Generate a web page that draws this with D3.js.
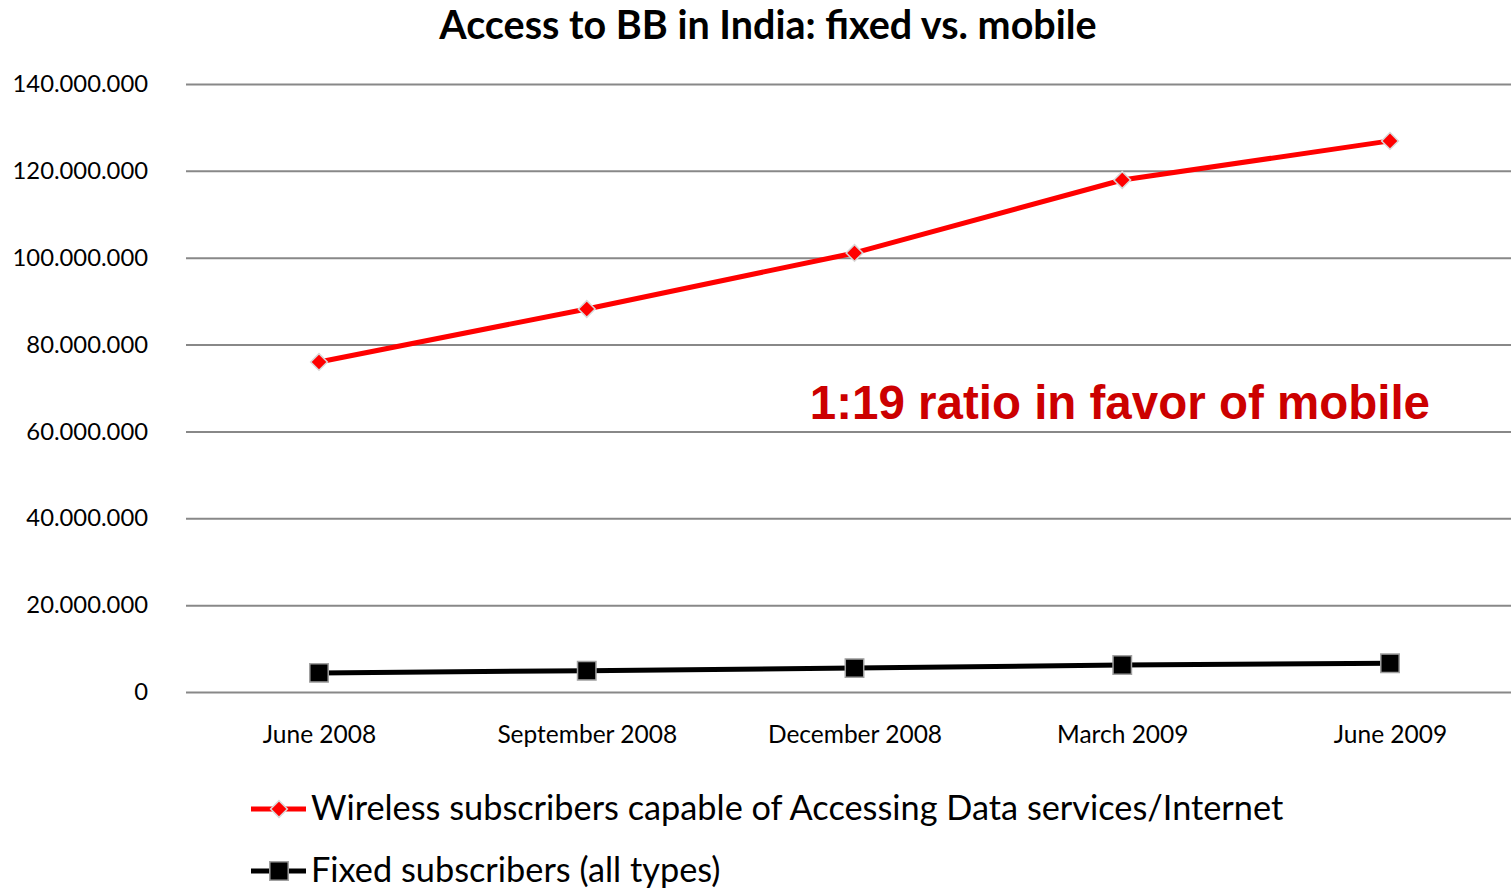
<!DOCTYPE html>
<html>
<head>
<meta charset="utf-8">
<script src="https://cdn.jsdelivr.net/npm/d3@7"></script>
<style>
  html, body { margin: 0; padding: 0; background: #fff; }
  svg { display: block; }
</style>
</head>
<body>
<svg id="chart" width="1511" height="889"></svg>
<script>
// Broadband subscribers in India, June 2008 – June 2009
const categories = ["June 2008", "September 2008", "December 2008", "March 2009", "June 2009"];
const wireless = [76000000, 88200000, 101100000, 117900000, 126900000];
const fixed = [4400000, 4900000, 5500000, 6200000, 6600000];
const yTicks = [0, 20000000, 40000000, 60000000, 80000000, 100000000, 120000000, 140000000];
const seriesNames = [
  "Wireless subscribers capable of Accessing Data services/Internet",
  "Fixed subscribers (all types)"
];

const svg = d3.select("#chart");
const font = "Lato, 'Open Sans', sans-serif";

const x = d3.scalePoint().domain(categories).range([319, 1390]);
const y = d3.scaleLinear().domain([0, 140000000]).range([692, 84]);

const fmt = v => v === 0 ? "0" : d3.format(",")(v).replace(/,/g, ".");

// Title
svg.append("text")
  .attr("x", 768).attr("y", 39)
  .attr("text-anchor", "middle")
  .attr("font-family", font).attr("font-weight", "bold").attr("font-size", 39.5)
  .attr("fill", "#000")
  .text("Access to BB in India: fixed vs. mobile");

// Horizontal gridlines and y labels
const yAxis = d3.axisLeft(y).tickValues(yTicks).tickFormat(fmt).tickSize(-1340).tickPadding(38);
const gy = svg.append("g").attr("transform", "translate(186,0)").call(yAxis);
gy.select(".domain").remove();
gy.selectAll(".tick line").attr("stroke", "#888").attr("stroke-width", 2);
gy.selectAll(".tick text")
  .attr("font-family", font).attr("font-size", 23.8).attr("fill", "#000");

// Category labels
const xAxis = d3.axisBottom(x).tickSize(0).tickPadding(0);
const gx = svg.append("g").attr("transform", "translate(0,743)").call(xAxis);
gx.select(".domain").remove();
gx.selectAll(".tick text")
  .attr("font-family", font).attr("font-size", 24.5).attr("fill", "#000").attr("dy", 0);

const line = d3.line().x((d, i) => x(categories[i])).y(d => y(d));

// Wireless series
svg.append("path").datum(wireless)
  .attr("d", line).attr("fill", "none")
  .attr("stroke", "#ff0000").attr("stroke-width", 5).attr("stroke-linejoin", "round");
svg.append("g").selectAll("path").data(wireless).join("path")
  .attr("transform", (d, i) => `translate(${x(categories[i])},${y(d)}) rotate(45)`)
  .attr("d", d3.symbol().type(d3.symbolSquare).size(140))
  .attr("fill", "#ff0000").attr("stroke", "#d8d8d8").attr("stroke-width", 1.5);

// Fixed series
svg.append("path").datum(fixed)
  .attr("d", line).attr("fill", "none")
  .attr("stroke", "#000").attr("stroke-width", 5).attr("stroke-linejoin", "round");
svg.append("g").selectAll("path").data(fixed).join("path")
  .attr("transform", (d, i) => `translate(${x(categories[i])},${y(d)})`)
  .attr("d", d3.symbol().type(d3.symbolSquare).size(340))
  .attr("fill", "#000").attr("stroke", "#a0a0a0").attr("stroke-width", 1.5);

// Annotation
svg.append("text")
  .attr("x", 1430).attr("y", 419)
  .attr("text-anchor", "end")
  .attr("font-family", "'Liberation Sans', Arial, sans-serif").attr("font-weight", "bold").attr("font-size", 47.5)
  .attr("fill", "#cc0000")
  .text("1:19 ratio in favor of mobile");

// Legend
const legend = svg.append("g");
const legendRows = [
  { name: seriesNames[0], color: "#ff0000", y: 809, kind: "diamond" },
  { name: seriesNames[1], color: "#000", y: 871, kind: "square" }
];
legendRows.forEach(r => {
  legend.append("line")
    .attr("x1", 251).attr("x2", 306).attr("y1", r.y).attr("y2", r.y)
    .attr("stroke", r.color).attr("stroke-width", 5);
  if (r.kind === "diamond") {
    legend.append("path")
      .attr("transform", `translate(279,${r.y}) rotate(45)`)
      .attr("d", d3.symbol().type(d3.symbolSquare).size(140))
      .attr("fill", r.color).attr("stroke", "#d8d8d8").attr("stroke-width", 1.5);
  } else {
    legend.append("path")
      .attr("transform", `translate(279,${r.y})`)
      .attr("d", d3.symbol().type(d3.symbolSquare).size(340))
      .attr("fill", r.color).attr("stroke", "#a0a0a0").attr("stroke-width", 1.5);
  }
  legend.append("text")
    .attr("x", 311).attr("y", r.y + 11)
    .attr("font-family", font).attr("font-size", 34.3).attr("fill", "#000")
    .text(r.name);
});
</script>
</body>
</html>
